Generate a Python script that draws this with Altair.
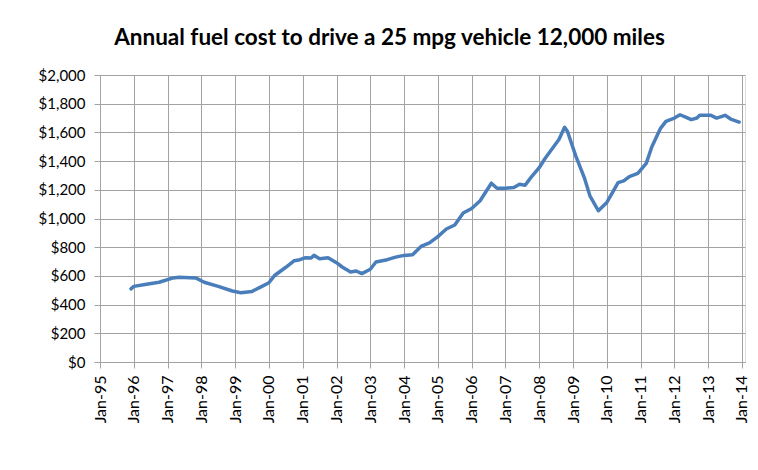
import altair as alt
import pandas as pd

months = [
    "1995-12", "1996-01", "1996-05", "1996-10", "1997-03", "1997-05", "1997-11",
    "1998-02", "1998-07", "1998-12", "1999-03", "1999-07", "1999-10", "2000-01",
    "2000-03", "2000-07", "2000-10", "2000-12", "2001-02", "2001-04", "2001-05",
    "2001-07", "2001-10", "2002-01", "2002-03", "2002-06", "2002-08", "2002-10",
    "2003-01", "2003-03", "2003-07", "2003-10", "2004-01", "2004-04", "2004-07",
    "2004-10", "2005-01", "2005-04", "2005-07", "2005-10", "2006-01", "2006-04",
    "2006-08", "2006-10", "2007-01", "2007-04", "2007-06", "2007-08", "2007-10",
    "2008-01", "2008-03", "2008-05", "2008-08", "2008-10", "2008-11", "2009-02",
    "2009-05", "2009-07", "2009-10", "2010-01", "2010-03", "2010-05", "2010-07",
    "2010-09", "2010-12", "2011-03", "2011-05", "2011-08", "2011-10", "2012-01",
    "2012-03", "2012-05", "2012-07", "2012-09", "2012-10", "2013-02", "2013-04",
    "2013-07", "2013-09", "2013-12",
]
cost = [
    510, 527, 540, 556, 586, 591, 586,
    556, 527, 495, 483, 492, 522, 552,
    603, 660, 706, 713, 727, 724, 743,
    720, 727, 692, 662, 627, 634, 616,
    646, 697, 713, 731, 743, 747, 805,
    830, 874, 927, 955, 1038, 1070, 1124,
    1246, 1211, 1211, 1216, 1239, 1232, 1285,
    1354, 1416, 1470, 1550, 1636, 1608, 1435,
    1285, 1158, 1054, 1112, 1181, 1250, 1262,
    1292, 1315, 1384, 1500, 1626, 1677, 1700,
    1723, 1707, 1689, 1700, 1719, 1719, 1700,
    1719, 1693, 1672,
]
year_ticks = list(range(1995, 2015))
cost_ticks = list(range(0, 2001, 200))
title_text = "Annual fuel cost to drive a 25 mpg vehicle 12,000 miles"

df = pd.DataFrame({"month": months, "cost": cost})
df["t"] = df["month"].str.slice(0, 4).astype(int) + (df["month"].str.slice(5, 7).astype(int) - 1) / 12.0

grid_col = "#a3a3a3"
font = "Lato"

chart = (
    alt.Chart(df)
    .mark_line(color="#4A7EBB", strokeWidth=3.5, strokeJoin="round", strokeCap="round")
    .encode(
        x=alt.X(
            "t:Q",
            scale=alt.Scale(domain=[1995, 2014.09], nice=False, zero=False),
            axis=alt.Axis(
                values=year_ticks,
                labelExpr="'Jan-' + slice(toString(datum.value), 2)",
                labelAngle=270,
                title=None,
                grid=True,
                gridColor=grid_col,
                domainColor=grid_col,
                tickColor=grid_col,
                tickSize=6,
                labelPadding=7,
                labelFont=font,
                labelFontSize=16,
                labelColor="#000000",
            ),
        ),
        y=alt.Y(
            "cost:Q",
            scale=alt.Scale(domain=[0, 2000], nice=False),
            axis=alt.Axis(
                values=cost_ticks,
                format="$,.0f",
                title=None,
                grid=True,
                gridColor=grid_col,
                domainColor=grid_col,
                tickColor=grid_col,
                tickSize=6,
                labelPadding=9,
                labelFont=font,
                labelFontSize=15,
                labelColor="#000000",
            ),
        ),
    )
    .properties(
        width=645,
        height=287,
        title=alt.TitleParams(
            text=title_text,
            font=font,
            fontSize=22.5,
            fontWeight="bold",
            color="#000000",
            anchor="middle",
            dx=-33,
            offset=19,
        ),
        autosize=alt.AutoSizeParams(type="none"),
        padding={"left": 92, "top": 67, "right": 5, "bottom": 100},
    )
    .configure_view(stroke=None)
    .configure(background="#ffffff")
)

chart.save("out.html", embed_options={"renderer": "svg", "actions": False})
